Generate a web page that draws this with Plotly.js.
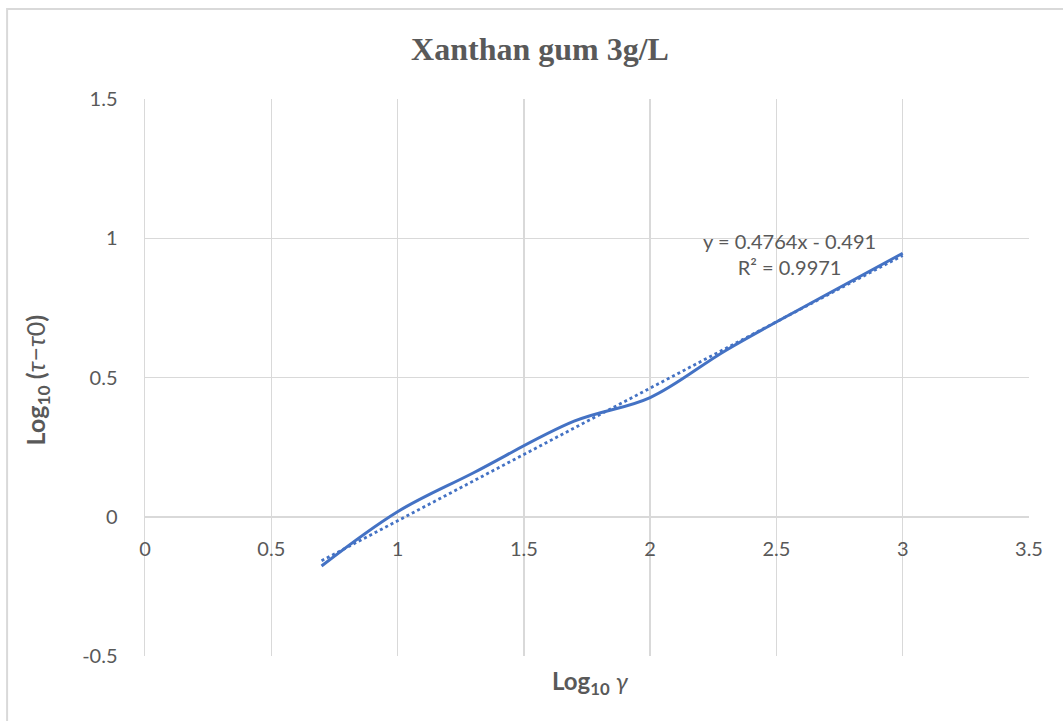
<!DOCTYPE html>
<html>
<head>
<meta charset="utf-8">
<script src="https://cdn.plot.ly/plotly-3.0.1.min.js"></script>
<style>
  html, body { margin: 0; padding: 0; background: #ffffff; }
  #chart { width: 1063px; height: 721px; }
</style>
</head>
<body>
<div id="chart"></div>
<script>
// Log10 of shear rate and log10 of (shear stress - yield stress)
const logShearRate = [0.699, 1.0, 1.301, 1.699, 2.0, 2.301, 2.699, 3.0];
const logStress = [-0.177, 0.018, 0.158, 0.343, 0.428, 0.598, 0.798, 0.946];

// Linear fit reported on the chart
const fitSlope = 0.4764;
const fitIntercept = -0.491;
const fitR2 = 0.9971;

const xTicks = [0, 0.5, 1, 1.5, 2, 2.5, 3, 3.5];
const xTickText = ['0', '0.5', '1', '1.5', '2', '2.5', '3', '3.5'];
const yTicks = [-0.5, 0, 0.5, 1, 1.5];
const yTickText = ['-0.5', '0', '0.5', '1', '1.5'];

const fitX = [logShearRate[0], logShearRate[logShearRate.length - 1]];
const fitY = fitX.map(x => fitSlope * x + fitIntercept);

const gray = '#595959';
const blue = '#4472C4';
const grid = '#d9d9d9';
const sans = 'Lato, Open Sans, Liberation Sans, sans-serif';
const tickFont = { family: sans, size: 20, color: gray };

const traces = [
  {
    x: fitX, y: fitY, type: 'scatter', mode: 'lines',
    line: { color: blue, width: 2.8, dash: 'dot' },
    hoverinfo: 'skip', showlegend: false
  },
  {
    x: logShearRate, y: logStress, type: 'scatter', mode: 'lines',
    line: { color: blue, width: 3, shape: 'spline', smoothing: 1 },
    showlegend: false
  }
];

const layout = {
  width: 1063, height: 721,
  paper_bgcolor: '#ffffff', plot_bgcolor: '#ffffff',
  margin: { l: 145, r: 34, t: 99, b: 65 },
  title: {
    text: '<b>Xanthan gum 3g/L</b>',
    font: { family: 'Liberation Serif, Times New Roman, serif', size: 32, color: gray },
    x: 0.508, xanchor: 'center', y: 0.932, yanchor: 'middle'
  },
  xaxis: {
    range: [0, 3.5], tickvals: xTicks, ticktext: xTickText,
    showgrid: true, gridcolor: grid, gridwidth: 1.5,
    zeroline: false, showline: false, ticks: '',
    anchor: 'free', position: 0.25, ticklabelstandoff: 18,
    tickfont: tickFont, fixedrange: true
  },
  yaxis: {
    range: [-0.5, 1.5], tickvals: yTicks, ticktext: yTickText,
    showgrid: true, gridcolor: grid, gridwidth: 1.5,
    zeroline: false, showline: true, linecolor: grid, linewidth: 1.5,
    ticks: '', ticklabelstandoff: 22,
    tickfont: tickFont, fixedrange: true
  },
  shapes: [
    // thin frame around the chart area
    {
      type: 'rect', xref: 'paper', yref: 'paper',
      x0: -0.156, x1: 1.2, y0: -0.3, y1: 1.1616,
      line: { color: grid, width: 2 }, fillcolor: 'rgba(0,0,0,0)', layer: 'below'
    }
  ],
  annotations: [
    {
      xref: 'paper', yref: 'paper', x: 0.504, y: -0.048,
      xanchor: 'center', yanchor: 'middle', showarrow: false,
      text: '<b>Log<sub>10</sub></b> <i>γ</i>',
      font: { family: sans, size: 24, color: gray }
    },
    {
      xref: 'paper', yref: 'paper', x: -0.122, y: 0.495,
      xanchor: 'center', yanchor: 'middle', showarrow: false, textangle: -90,
      text: '<b>Log<sub>10</sub> (</b><i>τ</i>−<i>τ</i>0<b>)</b>',
      font: { family: sans, size: 25, color: gray }
    },
    {
      xref: 'x', yref: 'y', x: 2.55, y: 0.943,
      xanchor: 'center', yanchor: 'middle', showarrow: false, align: 'center',
      text: 'y = ' + fitSlope.toFixed(4) + 'x - ' + Math.abs(fitIntercept).toFixed(3) +
            '<br>R² = ' + fitR2.toFixed(4),
      font: { family: sans, size: 20, color: gray }
    }
  ]
};

Plotly.newPlot('chart', traces, layout, { displayModeBar: false, staticPlot: true });
</script>
</body>
</html>
